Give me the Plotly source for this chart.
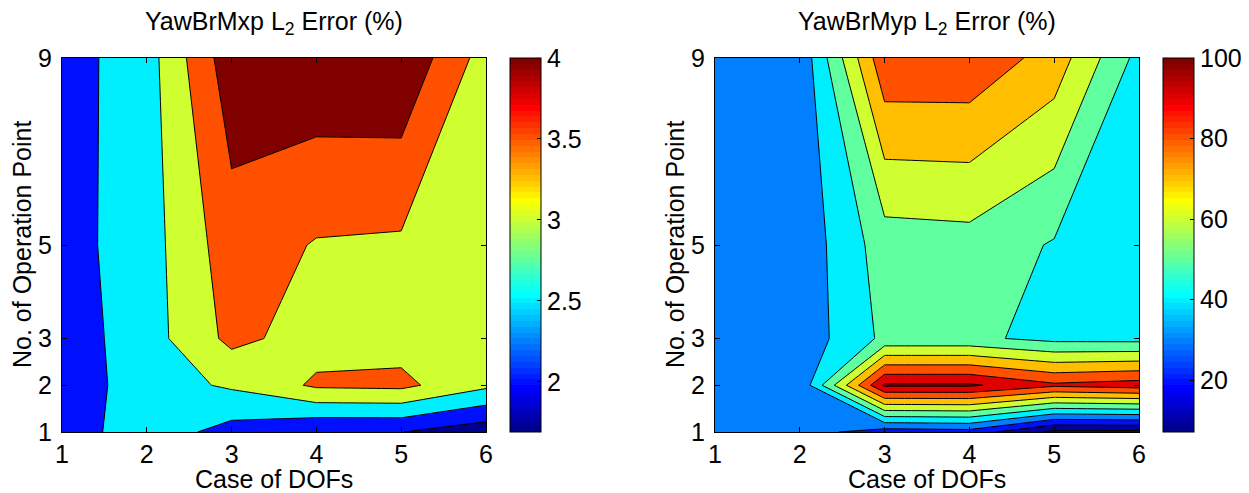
import numpy as np
import plotly.graph_objects as go

# ---------------- data ----------------
cases = [1, 2, 3, 4, 5, 6]                 # Case of DOFs
op_points = [1, 2, 3, 5, 9]                # No. of Operation Point

# rows follow op_points, columns follow cases
mxp_err = [
    [2.237, 2.785, 2.31, 2.02, 2.011, 1.69],
    [2.176, 2.776, 3.07, 3.58, 3.62, 3.10],
    [2.22, 2.78, 3.63, 3.29, 3.30, 3.15],
    [2.297, 2.78, 3.78, 3.465, 3.425, 3.20],
    [2.285, 2.78, 4.32, 4.39, 4.43, 3.28],
]
myp_err = [
    [33.5, 34.6, 24.6, 26.0, 7.1, 7.3],
    [33.0, 31.6, 101.5, 101.5, 92.0, 95.0],
    [33.8, 33.5, 52.2, 52.2, 47.0, 46.6],
    [34.0, 33.1, 55.1, 56.2, 49.1, 45.0],
    [34.2, 32.2, 87.6, 87.5, 75.8, 46.8],
]
mxp_levels = [2.0, 2.5, 3.0, 3.5, 4.0]
myp_levels = [10, 20, 30, 40, 50, 60, 70, 80, 90, 100]
mxp_cbar_ticks = [2, 2.5, 3, 3.5, 4]
myp_cbar_ticks = [20, 40, 60, 80, 100]
titles = ["YawBrMxp L<sub>2</sub> Error (%)", "YawBrMyp L<sub>2</sub> Error (%)"]

# ---------------- helpers ----------------
def matlab_jet(m=64):
    n = int(np.ceil(m / 4))
    u = np.concatenate([np.arange(1, n + 1) / n, np.ones(n - 1), np.arange(n, 0, -1) / n])
    k = np.arange(1, len(u) + 1)
    g = int(np.ceil(n / 2)) - (1 if m % 4 == 1 else 0) + k
    r = g + n
    b = g - n
    J = np.zeros((m, 3))
    for idx, col in ((r, 0), (g, 1), (b, 2)):
        mask = (idx >= 1) & (idx <= m)
        J[idx[mask] - 1, col] = u[mask]
    return J

JET = matlab_jet(64)

def rgb(c):
    return "rgb(%d,%d,%d)" % tuple(int(round(v * 255)) for v in c)

def jet_index(v, cmin, cmax):
    i = int(np.floor((v - cmin) / (cmax - cmin) * 64))
    return min(max(i, 0), 63)

def band_scale(levels, cmin, cmax):
    nc = len(levels)
    cols = [rgb(JET[0])] + [rgb(JET[jet_index(L, cmin, cmax)]) for L in levels]
    return [[k / nc, cols[k]] for k in range(nc + 1)]

def bar_scale():
    sc = []
    for i in range(64):
        sc.append([i / 64, rgb(JET[i])])
        sc.append([(i + 1) / 64, rgb(JET[i])])
    return sc

W, H = 1249, 493
FONT = "Liberation Sans, Arial, sans-serif"
FS = 25
ax_x = [(62, 486), (715, 1139)]
ax_top, ax_bot = 58, 432
cbar_x = [510, 1163]

def px(p):
    return p / W

def py(p):
    return 1 - p / H

fig = go.Figure()
datasets = [(mxp_err, mxp_levels, mxp_cbar_ticks), (myp_err, myp_levels, myp_cbar_ticks)]
annotations = []
for i, (Z, levels, cticks) in enumerate(datasets):
    Z = np.array(Z, dtype=float)
    cmin = float(Z.min())
    cmax = float(levels[-1])
    size = levels[1] - levels[0]
    xa = "x" if i == 0 else "x2"
    ya = "y" if i == 0 else "y2"
    fig.add_trace(go.Contour(
        x=cases, y=op_points, z=Z,
        autocontour=False,
        contours=dict(start=levels[0], end=levels[-1], size=size, coloring="fill", showlines=True),
        line=dict(color="black", width=1, smoothing=0),
        colorscale=band_scale(levels, cmin, cmax),
        showscale=False, hoverinfo="skip",
        xaxis=xa, yaxis=ya,
    ))
    fig.add_trace(go.Scatter(
        x=[None], y=[None], mode="markers", showlegend=False, hoverinfo="skip",
        xaxis=xa, yaxis=ya,
        marker=dict(color=[cmin], colorscale=bar_scale(), cmin=cmin, cmax=cmax, showscale=True,
                    colorbar=dict(
                        x=px(cbar_x[i]), xanchor="left", xpad=0, ypad=0,
                        y=1 - ax_bot / H, yanchor="bottom",
                        len=(ax_bot - ax_top) / H, lenmode="fraction",
                        thickness=31, thicknessmode="pixels",
                        outlinecolor="black", outlinewidth=1, borderwidth=0,
                        tickmode="array", tickvals=cticks,
                        ticktext=[("%g" % t) for t in cticks],
                        ticks="inside", ticklen=4, tickcolor="black",
                        tickfont=dict(family=FONT, size=FS, color="black"),
                    )),
    ))
    cx = (ax_x[i][0] + ax_x[i][1]) / 2
    annotations.append(dict(text=titles[i], x=px(cx), y=py(23), xref="paper", yref="paper",
                            xanchor="center", yanchor="middle", showarrow=False,
                            font=dict(family=FONT, size=FS, color="black")))
    annotations.append(dict(text="Case of DOFs", x=px(cx), y=py(479), xref="paper", yref="paper",
                            xanchor="center", yanchor="middle", showarrow=False,
                            font=dict(family=FONT, size=FS, color="black")))
    annotations.append(dict(text="No. of Operation Point", x=px(ax_x[i][0] - 40), y=py((ax_top + ax_bot) / 2),
                            xref="paper", yref="paper", xanchor="center", yanchor="middle",
                            textangle=-90, showarrow=False,
                            font=dict(family=FONT, size=FS, color="black")))

axis_common = dict(showline=True, linecolor="black", linewidth=1, mirror="ticks",
                   ticks="inside", ticklen=5, tickcolor="black", showgrid=False, zeroline=False,
                   tickfont=dict(family=FONT, size=FS, color="black"))
layout = dict(
    width=W, height=H, autosize=False,
    margin=dict(l=0, r=0, t=0, b=0, pad=0, autoexpand=False),
    paper_bgcolor="white", plot_bgcolor="white",
    showlegend=False,
    annotations=annotations,
)
for i in range(2):
    sfx = "" if i == 0 else "2"
    layout["xaxis" + sfx] = dict(axis_common, domain=[px(ax_x[i][0]), px(ax_x[i][1])], range=[1, 6],
                                 tickmode="array", tickvals=cases, ticklabelstandoff=0,
                                 anchor="y" + sfx)
    layout["yaxis" + sfx] = dict(axis_common, domain=[1 - ax_bot / H, 1 - ax_top / H], range=[1, 9],
                                 tickmode="array", tickvals=op_points, ticklabelstandoff=4,
                                 anchor="x" + sfx)
fig.update_layout(**layout)
fig.write_html("out.html", config={"displayModeBar": False},
               post_script="document.body.style.margin='0';")
